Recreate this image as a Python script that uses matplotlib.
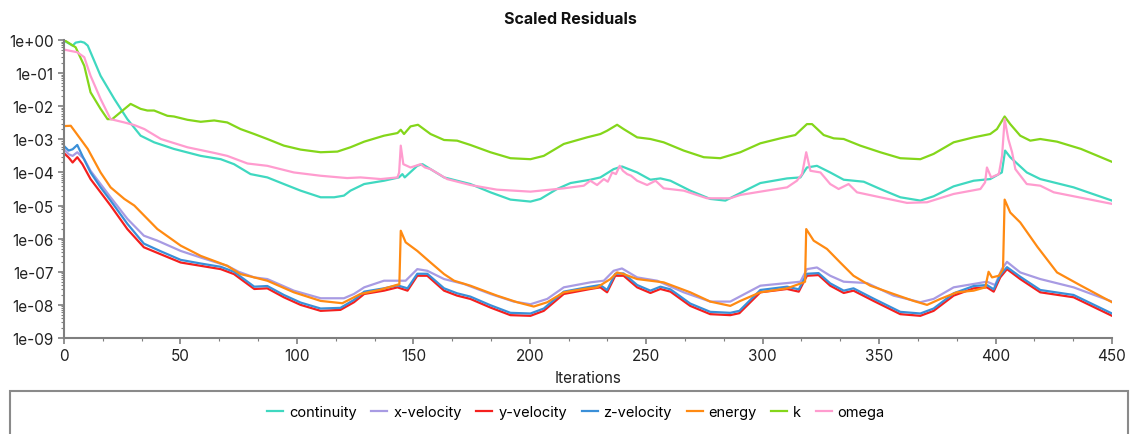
import matplotlib
matplotlib.use("Agg")
import matplotlib.pyplot as plt
import numpy as np
from matplotlib.patches import Rectangle
from matplotlib.ticker import FuncFormatter, AutoMinorLocator, LogLocator

plt.rcParams["font.family"] = ["Inter", "DejaVu Sans"]

# residual histories: iteration -> log10(residual)
continuity_it = [0, 2, 3.7, 5, 7.2, 8.7, 10.2, 15.7, 21.6, 27.2, 32.9, 38.7, 47.2, 58.7, 67.3, 73, 80.1, 87.3,
                 94.4, 101.6, 110.2, 116, 120.2, 123, 128.9, 137.4, 143.8, 145.3, 146.3, 151.7, 153.9, 157.4,
                 163.2, 168.8, 174.5, 183.1, 191.7, 200.3, 204.6, 211.7, 217.5, 226, 230.3, 236, 239.6, 246.1,
                 251.8, 256.1, 260.4, 268.9, 277.5, 284, 287.6, 299, 310.5, 316.2, 319, 323.3, 329, 334.8,
                 343.4, 350.5, 359.1, 367.7, 373.4, 382, 390.6, 397.7, 402.7, 404.1, 406.3, 413.4, 419.2,
                 433.5, 450]
continuity_log = [-0.02, -0.1, -0.17, -0.08, -0.05, -0.08, -0.17, -1.08, -1.78, -2.39, -2.89, -3.09, -3.29,
                  -3.5, -3.6, -3.75, -4.05, -4.15, -4.35, -4.55, -4.75, -4.75, -4.7, -4.55, -4.35, -4.25,
                  -4.15, -4.05, -4.15, -3.8, -3.75, -3.9, -4.15, -4.25, -4.35, -4.6, -4.82, -4.88, -4.8,
                  -4.5, -4.32, -4.22, -4.15, -3.9, -3.82, -4.0, -4.22, -4.18, -4.25, -4.55, -4.8, -4.85,
                  -4.72, -4.32, -4.18, -4.15, -3.85, -3.8, -4.0, -4.22, -4.28, -4.5, -4.75, -4.85, -4.72,
                  -4.42, -4.25, -4.2, -4.0, -3.34, -3.54, -4.0, -4.2, -4.45, -4.85]

xvel_it = [0, 2, 3.7, 5.7, 8.7, 11.4, 15.7, 20, 27.2, 34.3, 40.1, 50.1, 58.7, 70.1, 75, 81.7, 87.3, 98.7,
           110.2, 120.2, 124.5, 128.9, 137.4, 146.7, 151.7, 156, 163.2, 171.8, 183.1, 193.1, 200.3, 207.5,
           214.6, 226, 231.8, 236, 239.6, 246.1, 254.7, 266.1, 277.5, 286.1, 299, 310.5, 316.2, 319, 323.3,
           329, 334.8, 344.8, 356.2, 367.7, 373.4, 382, 396.3, 399.8, 402.7, 404.9, 410.6, 419.2, 433.5, 450]
xvel_log = [-3.3, -3.45, -3.5, -3.39, -3.6, -3.95, -4.35, -4.75, -5.4, -5.91, -6.06, -6.37, -6.57, -6.82,
            -7.0, -7.17, -7.22, -7.57, -7.8, -7.8, -7.67, -7.47, -7.27, -7.27, -6.92, -6.97, -7.22, -7.37,
            -7.67, -7.9, -7.98, -7.82, -7.47, -7.32, -7.27, -6.97, -6.9, -7.17, -7.27, -7.62, -7.9, -7.9,
            -7.42, -7.34, -7.3, -6.92, -6.87, -7.12, -7.3, -7.34, -7.72, -7.92, -7.82, -7.47, -7.3, -7.4,
            -6.92, -6.7, -7.02, -7.22, -7.47, -7.9]

yvel_it = [0, 2, 3.7, 5.7, 7.9, 11.4, 15.7, 20, 27.2, 34.3, 41.5, 50.1, 58.7, 67.3, 73, 81.7, 87.3, 94.4,
           101.6, 110.2, 118.7, 124.5, 128.9, 137.4, 143.2, 147.5, 151.7, 156, 163.2, 168.8, 174.5, 183.1,
           191.7, 200.3, 206, 214.6, 226, 230.3, 233.2, 236.7, 240.3, 246.1, 251.8, 256.1, 260.4, 268.9,
           277.5, 286.1, 290, 299, 310.5, 315.5, 319, 324, 329, 334.8, 339, 347.6, 359.1, 367.7, 373.4, 382,
           390.6, 396.3, 399.2, 402, 404.9, 410.6, 419.2, 433.5, 450]
yvel_log = [-3.42, -3.55, -3.7, -3.54, -3.75, -4.2, -4.6, -5.0, -5.71, -6.26, -6.47, -6.72, -6.82, -6.92,
            -7.07, -7.52, -7.5, -7.77, -8.0, -8.18, -8.15, -7.92, -7.67, -7.57, -7.47, -7.57, -7.12, -7.12,
            -7.57, -7.72, -7.82, -8.08, -8.31, -8.33, -8.18, -7.67, -7.52, -7.47, -7.62, -7.12, -7.12, -7.47,
            -7.64, -7.52, -7.6, -8.03, -8.28, -8.31, -8.25, -7.62, -7.52, -7.6, -7.12, -7.1, -7.42, -7.64,
            -7.57, -7.88, -8.28, -8.33, -8.18, -7.72, -7.5, -7.47, -7.6, -7.17, -6.92, -7.22, -7.62, -7.77,
            -8.33]

zvel_it = yvel_it
zvel_log = [-3.2, -3.34, -3.3, -3.17, -3.5, -4.0, -4.45, -4.85, -5.55, -6.15, -6.38, -6.64, -6.75, -6.85,
            -7.0, -7.45, -7.43, -7.7, -7.93, -8.11, -8.09, -7.85, -7.6, -7.5, -7.41, -7.5, -7.06, -7.06,
            -7.5, -7.65, -7.75, -8.01, -8.24, -8.26, -8.11, -7.6, -7.45, -7.4, -7.55, -7.06, -7.05, -7.4,
            -7.57, -7.45, -7.53, -7.96, -8.21, -8.24, -8.18, -7.55, -7.45, -7.53, -7.06, -7.04, -7.35, -7.57,
            -7.5, -7.81, -8.21, -8.26, -8.11, -7.65, -7.43, -7.4, -7.53, -7.1, -6.86, -7.15, -7.55, -7.7,
            -8.26]

energy_it = [0, 2.9, 5, 10.2, 15.7, 20, 25.9, 30.2, 40.1, 50.1, 58.7, 70.1, 75.8, 81.7, 87.3, 98.7, 110.2,
             119.5, 127.3, 135.9, 143.2, 144.0, 144.6, 146.7, 151.7, 157.4, 163.2, 167.5, 174.5, 185.9,
             194.6, 201.7, 207.5, 214.6, 223.2, 228.9, 234.6, 237.5, 240.3, 246.1, 251.8, 257.5, 268.9,
             277.5, 286.1, 290.4, 299, 310.5, 317.6, 318.2, 318.7, 321.9, 327.6, 333.3, 339, 346.2, 356.2,
             364.8, 370.6, 376.3, 383.4, 390.6, 395.6, 397, 398.5, 401.4, 403.2, 403.9, 406.3, 410.6,
             418.0, 426.4, 436.7, 450]
energy_log = [-2.6, -2.59, -2.79, -3.29, -4.0, -4.45, -4.8, -5.0, -5.71, -6.21, -6.52, -6.82, -7.07, -7.17,
              -7.27, -7.62, -7.88, -7.95, -7.67, -7.54, -7.39, -7.38, -5.76, -6.11, -6.37, -6.72, -7.07,
              -7.27, -7.42, -7.72, -7.92, -8.05, -7.92, -7.62, -7.52, -7.47, -7.22, -7.02, -7.07, -7.22,
              -7.27, -7.32, -7.62, -7.9, -8.03, -7.88, -7.62, -7.5, -7.32, -7.3, -5.71, -6.06, -6.31, -6.72,
              -7.12, -7.42, -7.67, -7.88, -8.0, -7.82, -7.62, -7.57, -7.47, -7.0, -7.17, -7.12, -6.92, -4.82,
              -5.21, -5.51, -6.25, -7.02, -7.42, -7.92]

k_it = [0, 5, 8.7, 11.4, 15.7, 18.7, 20.7, 24.3, 28.6, 32.9, 35.8, 38.7, 44.4, 47.2, 53, 58.7, 64.5, 70.1,
        75.8, 81.7, 87.3, 94.4, 101.6, 110.2, 117.4, 123, 128.9, 137.4, 143.2, 144.6, 146, 148.8, 152, 157.4,
        163.2, 168.8, 174.5, 183.1, 191.7, 200.3, 206, 214.6, 224.6, 230.3, 233.2, 237.5, 240.3, 246.1,
        251.8, 257.5, 266.1, 274.7, 281.8, 290.4, 299, 307.6, 314, 319, 321.2, 326.2, 330.5, 334.8, 341.9,
        350.5, 359.1, 367.7, 373.4, 382, 390.6, 397.7, 400.6, 403.9, 406.3, 410.6, 414.9, 419.2, 426.4,
        436.7, 450]
k_log = [0.0, -0.22, -0.78, -1.58, -2.08, -2.39, -2.39, -2.18, -1.93, -2.08, -2.13, -2.13, -2.29, -2.31,
         -2.41, -2.47, -2.43, -2.49, -2.69, -2.84, -2.99, -3.19, -3.31, -3.39, -3.37, -3.24, -3.07, -2.89,
         -2.81, -2.71, -2.84, -2.61, -2.56, -2.84, -3.02, -3.04, -3.17, -3.39, -3.57, -3.6, -3.5, -3.14,
         -2.94, -2.84, -2.74, -2.56, -2.69, -2.94, -2.99, -3.09, -3.34, -3.54, -3.57, -3.39, -3.12, -2.97,
         -2.87, -2.54, -2.54, -2.87, -2.97, -2.99, -3.19, -3.39, -3.57, -3.6, -3.44, -3.09, -2.94, -2.84,
         -2.69, -2.31, -2.54, -2.89, -3.04, -2.99, -3.07, -3.29, -3.68]

omega_it = [0, 5.7, 8.7, 11.4, 15.7, 20, 25.9, 30.2, 34.5, 41.6, 53, 64.5, 70.1, 78.8, 87.3, 98.7, 110.2,
            121.6, 127.3, 136, 143.2, 143.9, 144.6, 145.7, 148.8, 151, 153.1, 155, 157.4, 164.5, 174.5,
            185.9, 200.3, 214.6, 223.2, 226, 228.9, 231.8, 233.5, 235.4, 237, 238.6, 240, 241.8, 243.5,
            246.1, 250.4, 254, 257.5, 266.1, 276.1, 286.1, 290.4, 299, 310.5, 314.7, 316.9, 318.7, 320.5,
            324.8, 329, 332.6, 336.9, 340.5, 350.5, 362, 370.6, 382, 393.5, 395.5, 396.3, 398.1, 401.4,
            402.8, 403.9, 405.5, 407.1, 408.5, 413.4, 419.2, 425, 439.3, 450]
omega_log = [-0.29, -0.37, -0.52, -1.08, -1.78, -2.39, -2.49, -2.57, -2.69, -2.99, -3.24, -3.41, -3.5,
             -3.73, -3.8, -4.0, -4.1, -4.17, -4.15, -4.2, -4.15, -4.0, -3.19, -3.75, -3.85, -3.8, -3.75,
             -3.85, -3.9, -4.2, -4.38, -4.52, -4.58, -4.48, -4.4, -4.25, -4.38, -4.2, -4.28, -4.0, -4.05,
             -3.8, -3.95, -4.05, -4.1, -4.25, -4.38, -4.25, -4.48, -4.55, -4.78, -4.78, -4.68, -4.58, -4.45,
             -4.25, -4.05, -3.39, -3.95, -4.0, -4.35, -4.5, -4.35, -4.6, -4.75, -4.92, -4.9, -4.65, -4.5,
             -4.3, -3.85, -4.15, -4.05, -3.5, -2.39, -3.0, -3.39, -3.9, -4.35, -4.4, -4.6, -4.8, -4.95]

series = [
    ("continuity", continuity_it, continuity_log, "#3fd8c0"),
    ("x-velocity", xvel_it, xvel_log, "#a89be3"),
    ("y-velocity", yvel_it, yvel_log, "#f5201e"),
    ("z-velocity", zvel_it, zvel_log, "#3a8fd8"),
    ("energy", energy_it, energy_log, "#ff8a12"),
    ("k", k_it, k_log, "#84d61a"),
    ("omega", omega_it, omega_log, "#ff9ccf"),
]

W, H = 1133, 435
fig = plt.figure(figsize=(W / 100, H / 100), dpi=100)
ax = fig.add_axes([64 / W, 1 - 339 / H, (1112 - 64) / W, (339 - 41) / H])

for name, its, logs, color in series:
    ax.plot(its, np.power(10.0, logs), color=color, lw=1.6, label=name, solid_joinstyle="round")

ax.set_yscale("log")
ax.set_xlim(0, 450)
ax.set_ylim(1e-9, 1.0)
ax.set_yticks([10.0 ** -e for e in range(10)])
ax.yaxis.set_major_formatter(FuncFormatter(lambda v, p: f"{v:.0e}"))
ax.yaxis.set_minor_locator(LogLocator(base=10, subs=np.arange(2, 10)))
ax.xaxis.set_minor_locator(AutoMinorLocator(3))
ax.set_xticks(np.arange(0, 451, 50))

for side in ["top", "right"]:
    ax.spines[side].set_visible(False)
for side in ["left", "bottom"]:
    ax.spines[side].set_color("#7f7f7f")
    ax.spines[side].set_linewidth(1.5)
ax.tick_params(which="major", colors="#7f7f7f", labelcolor="#222222", labelsize=11, length=4, width=1.2)
ax.tick_params(which="minor", colors="#7f7f7f", length=2, width=0.8)

ax.set_xlabel("Iterations", fontsize=11, color="#222222", labelpad=5)
fig.text(570 / W, 1 - 19 / H, "Scaled Residuals", ha="center", va="center",
         fontsize=11.5, fontweight="bold", color="#111111")

# legend panel at the bottom
fig.patches.append(Rectangle((10 / W, -0.05), (1128 - 10) / W, 0.05 + (435 - 392) / H,
                             transform=fig.transFigure, fill=False, edgecolor="#8a8a8a", lw=1.5))
handles, labels = ax.get_legend_handles_labels()
fig.legend(handles, labels, loc="center", bbox_to_anchor=(576 / W, 1 - 413 / H), ncol=7,
           frameon=False, fontsize=10.5, handlelength=1.1, handletextpad=0.4, columnspacing=1.0)

fig.savefig("out.png", dpi=100)
